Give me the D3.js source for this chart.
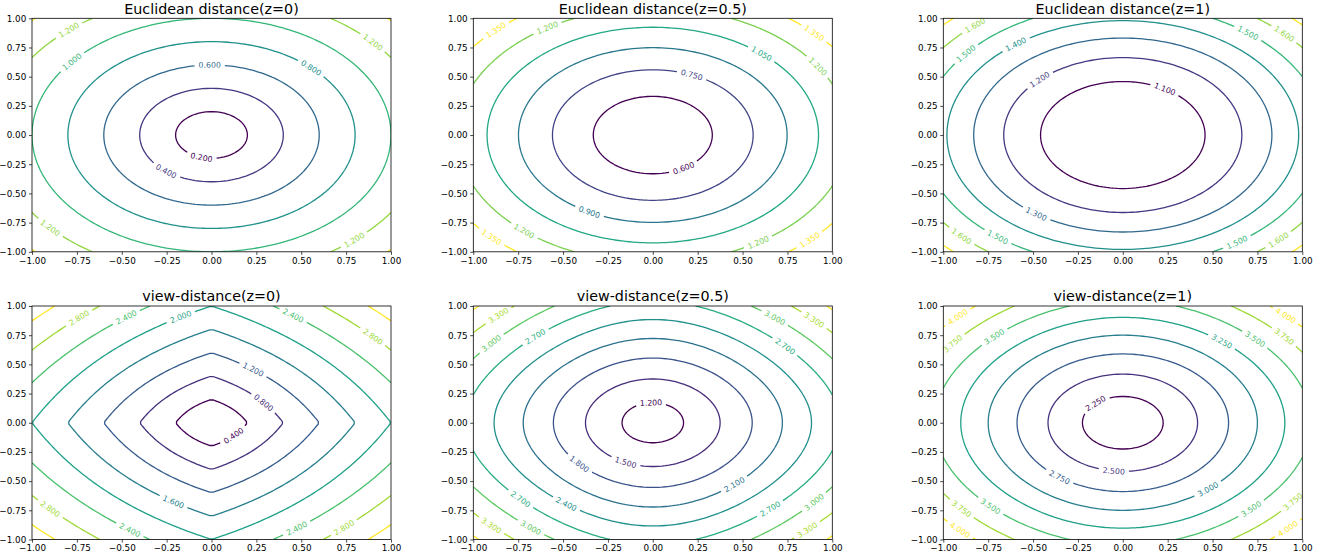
<!DOCTYPE html>
<html><head><meta charset="utf-8">
<script src="https://cdn.jsdelivr.net/npm/d3@7"></script>
<style>
body{margin:0;background:#fff}
text{font-family:"DejaVu Sans",sans-serif}
</style>
</head><body>
<svg id="chart" width="1327" height="559"></svg>
<script>
// ---------------- data ----------------
const panelTitles = [
  "Euclidean distance(z=0)", "Euclidean distance(z=0.5)", "Euclidean distance(z=1)",
  "view-distance(z=0)", "view-distance(z=0.5)", "view-distance(z=1)"
];
const panelMetric = ["euclidean", "euclidean", "euclidean", "view", "view", "view"];
const panelZ = [0, 0.5, 1, 0, 0.5, 1];
const levelsEuclidean0 = [0.2, 0.4, 0.6, 0.8, 1.0, 1.2, 1.4];
const levelsEuclidean05 = [0.6, 0.75, 0.9, 1.05, 1.2, 1.35];
const levelsEuclidean1 = [1.1, 1.2, 1.3, 1.4, 1.5, 1.6, 1.7];
const levelsView0 = [0.4, 0.8, 1.2, 1.6, 2.0, 2.4, 2.8, 3.2];
const levelsView05 = [1.2, 1.5, 1.8, 2.1, 2.4, 2.7, 3.0, 3.3, 3.6];
const levelsView1 = [2.25, 2.5, 2.75, 3.0, 3.25, 3.5, 3.75, 4.0];
const panelLevels = [levelsEuclidean0, levelsEuclidean05, levelsEuclidean1,
                     levelsView0, levelsView05, levelsView1];
const tickValues = [-1, -0.75, -0.5, -0.25, 0, 0.25, 0.5, 0.75, 1];
const axisDomain = [-1, 1];

// the plotted fields
function euclidean(x, y, z) { return Math.sqrt(x * x + y * y + z * z); }
function viewDistance(x, y, z) { return Math.hypot(x, y) + Math.hypot(x, z) + Math.hypot(y, z); }
const metricFns = { euclidean: euclidean, view: viewDistance };

// ---------------- layout ----------------
const colLeft = [32, 473.3, 943.3];
const axW = 359;
const rowTop = [18.3, 306];
const axH = 233.5;
const GRID_N = 100;
const tickFont = 8.8, titleFont = 14.3, labelFont = 7.8;
const lineW = 1.3;

const svg = d3.select("#chart");
const fmtTick = d3.format(".2f");
const fmtLabel = d3.format(".3f");

const measurer = svg.append("text").attr("font-size", labelFont).attr("visibility", "hidden");
function textWidth(s) { measurer.text(s); return measurer.node().getComputedTextLength(); }

panelTitles.forEach((title, k) => {
  const col = k % 3, row = Math.floor(k / 3);
  const x0 = colLeft[col], y0 = rowTop[row];
  const xs = d3.scaleLinear().domain(axisDomain).range([x0, x0 + axW]);
  const ys = d3.scaleLinear().domain(axisDomain).range([y0 + axH, y0]);
  const g = svg.append("g");

  const clipId = "clip" + k;
  g.append("clipPath").attr("id", clipId).append("rect")
    .attr("x", x0).attr("y", y0).attr("width", axW).attr("height", axH);

  const n = GRID_N;
  const fn = metricFns[panelMetric[k]], z = panelZ[k];
  const values = new Float64Array(n * n);
  for (let j = 0; j < n; j++) for (let i = 0; i < n; i++) {
    const xv = -1 + 2 * i / (n - 1), yv = 1 - 2 * j / (n - 1);
    values[j * n + i] = fn(xv, yv, z);
  }
  const levels = panelLevels[k];
  const color = d3.scaleSequential(d3.interpolateViridis).domain([levels[0], levels[levels.length - 1]]);
  const contours = d3.contours().size([n, n]).thresholds(levels)(values);
  const gdx = c => -1 + (c - 0.5) * 2 / (n - 1);
  const gdy = c => 1 - (c - 0.5) * 2 / (n - 1);
  const onB = p => p[0] === 0 || p[0] === n || p[1] === 0 || p[1] === n;

  // orient a data-space polyline so that higher values lie on its right side
  function orient(D) {
    const m = Math.floor(D.length / 2);
    const a = D[Math.max(0, m - 1)], b = D[Math.min(D.length - 1, m + 1)];
    const dx = b[0] - a[0], dy = b[1] - a[1], len = Math.hypot(dx, dy) || 1;
    const nx = dy / len, ny = -dx / len, e = 0.01;
    const p = D[m];
    const right = fn(p[0] + e * nx, p[1] + e * ny, z), left = fn(p[0] - e * nx, p[1] - e * ny, z);
    return right >= left ? D : D.slice().reverse();
  }

  function ringToLines(ring) {
    let pts = ring.slice();
    const f = pts[0], l = pts[pts.length - 1];
    if (f[0] === l[0] && f[1] === l[1]) pts = pts.slice(0, -1);
    const b = pts.findIndex(onB);
    if (b < 0) {
      let D = orient(pts.map(p => [gdx(p[0]), gdy(p[1])]));
      let s = 0;
      D.forEach((p, i) => { if (p[1] < D[s][1] - 1e-12 || (Math.abs(p[1] - D[s][1]) < 1e-12 && p[0] < D[s][0])) s = i; });
      D = D.slice(s).concat(D.slice(0, s));
      return [{ pts: D, closed: true }];
    }
    const rot = pts.slice(b).concat(pts.slice(0, b));
    const lines = []; let cur = [];
    for (const p of rot) {
      if (onB(p)) { if (cur.length > 1) lines.push({ pts: orient(cur.map(q => [gdx(q[0]), gdy(q[1])])), closed: false }); cur = []; }
      else cur.push(p);
    }
    if (cur.length > 1) lines.push({ pts: orient(cur.map(q => [gdx(q[0]), gdy(q[1])])), closed: false });
    return lines;
  }

  const labelXYs = [];
  const tooClose = (x, y, lw) => labelXYs.some(q => (x - q[0]) ** 2 + (y - q[1]) ** 2 < (1.2 * lw) ** 2);

  function locateLabel(P, lw) {
    const size = P.length;
    const nBlocks = lw > 1 ? Math.ceil(size / lw) : 1;
    const bs = nBlocks === 1 ? size : Math.floor(lw);
    const dists = [];
    for (let b = 0; b < nBlocks; b++) {
      const id = q => P[(b * bs + q) % size];
      const f = id(0), l = id(bs - 1);
      const L = Math.hypot(l[0] - f[0], l[1] - f[1]);
      let s = 0;
      for (let q = 0; q < bs; q++) {
        const p = id(q);
        s += Math.abs((f[1] - p[1]) * (l[0] - f[0]) - (f[0] - p[0]) * (l[1] - f[1]));
      }
      dists.push(L > 0 ? s / L : Infinity);
    }
    const hb = Math.floor(bs / 2);
    const order = d3.range(nBlocks).sort((a, b) => dists[a] - dists[b]);
    let chosen = order[0];
    for (const idx of order.concat([order[0]])) {
      const p = P[(idx * bs + hb) % size];
      chosen = idx;
      if (!tooClose(p[0], p[1], lw)) break;
    }
    return (chosen * bs + hb) % size;
  }

  function pointAt(P, cum, s) {
    let i = d3.bisectRight(cum, s) - 1;
    i = Math.max(0, Math.min(P.length - 2, i));
    const seg = cum[i + 1] - cum[i];
    const t = seg > 0 ? (s - cum[i]) / seg : 0;
    return [P[i][0] + t * (P[i + 1][0] - P[i][0]), P[i][1] + t * (P[i + 1][1] - P[i][1])];
  }
  function sub(P, cum, a, b) {
    const out = [pointAt(P, cum, a)];
    for (let i = 0; i < P.length; i++) if (cum[i] > a && cum[i] < b) out.push(P[i]);
    out.push(pointAt(P, cum, b));
    return out;
  }

  const line = d3.line();
  const cg = g.append("g").attr("clip-path", `url(#${clipId})`);
  const lg = g.append("g");

  contours.forEach(c => {
    const lev = c.value;
    const col = color(lev);
    const label = fmtLabel(lev);
    const lw = textWidth(label);
    c.coordinates.forEach(poly => poly.forEach(ring => {
      ringToLines(ring).forEach(L => {
        const P = L.pts.map(p => [xs(p[0]), ys(p[1])]);
        const ext = [d3.extent(P, p => p[0]), d3.extent(P, p => p[1])];
        const doLabel = P.length > 10 * lw ||
          (ext[0][1] - ext[0][0]) > 1.2 * lw || (ext[1][1] - ext[1][0]) > 1.2 * lw;
        const Pc = L.closed ? P.concat([P[0]]) : P;
        const cum = [0];
        for (let i = 1; i < Pc.length; i++) cum.push(cum[i - 1] + Math.hypot(Pc[i][0] - Pc[i - 1][0], Pc[i][1] - Pc[i - 1][1]));
        const total = cum[cum.length - 1];
        if (!doLabel || total < lw + 10) {
          cg.append("path").attr("d", line(Pc)).attr("fill", "none").attr("stroke", col).attr("stroke-width", lineW);
          return;
        }
        const vi = locateLabel(P, lw);
        const lp = P[vi];
        labelXYs.push(lp);
        const s = cum[vi];
        const half = lw / 2, sp = 4;
        let pa, pb;
        if (L.closed) {
          const m = v => ((v % total) + total) % total;
          pa = pointAt(Pc, cum, m(s - half)); pb = pointAt(Pc, cum, m(s + half));
        } else {
          pa = pointAt(Pc, cum, Math.max(0, s - half)); pb = pointAt(Pc, cum, Math.min(total, s + half));
        }
        let ang = Math.atan2(pb[1] - pa[1], pb[0] - pa[0]) * 180 / Math.PI;
        if (ang > 90) ang -= 180; if (ang < -90) ang += 180;
        const a = s - half - sp, b = s + half + sp;
        const pieces = [];
        if (L.closed) {
          const aa = ((a % total) + total) % total, bb = ((b % total) + total) % total;
          if (bb < aa) pieces.push(sub(Pc, cum, bb, aa));
          else { pieces.push(sub(Pc, cum, bb, total).concat(sub(Pc, cum, 0, aa).slice(1))); }
        } else {
          if (a > 0) pieces.push(sub(Pc, cum, 0, a));
          if (b < total) pieces.push(sub(Pc, cum, b, total));
        }
        pieces.forEach(pc => cg.append("path").attr("d", line(pc)).attr("fill", "none")
          .attr("stroke", col).attr("stroke-width", lineW));
        lg.append("text").attr("transform", `translate(${lp[0]},${lp[1]}) rotate(${ang})`)
          .attr("text-anchor", "middle").attr("dy", "0.35em").attr("font-size", labelFont)
          .attr("fill", col).text(label);
      });
    }));
  });

  const xAxis = d3.axisBottom(xs).tickValues(tickValues).tickFormat(fmtTick).tickSize(3.1).tickPadding(2.6).tickSizeOuter(0);
  const yAxis = d3.axisLeft(ys).tickValues(tickValues).tickFormat(fmtTick).tickSize(3.1).tickPadding(2.6).tickSizeOuter(0);
  const gxA = g.append("g").attr("transform", `translate(0,${y0 + axH})`).call(xAxis);
  const gyA = g.append("g").attr("transform", `translate(${x0},0)`).call(yAxis);
  [gxA, gyA].forEach(a => {
    a.select(".domain").remove();
    a.selectAll("text").attr("font-size", tickFont).attr("fill", "#000").attr("font-family", "DejaVu Sans");
    a.selectAll("line").attr("stroke", "#000").attr("stroke-width", 0.7);
  });
  g.append("rect").attr("x", x0).attr("y", y0).attr("width", axW).attr("height", axH)
    .attr("fill", "none").attr("stroke", "#000").attr("stroke-width", 0.8);

  g.append("text").attr("x", x0 + axW / 2).attr("y", y0 - 4.8).attr("text-anchor", "middle")
    .attr("font-size", titleFont).attr("fill", "#000").text(title);
});
measurer.remove();
</script>
</body></html>
